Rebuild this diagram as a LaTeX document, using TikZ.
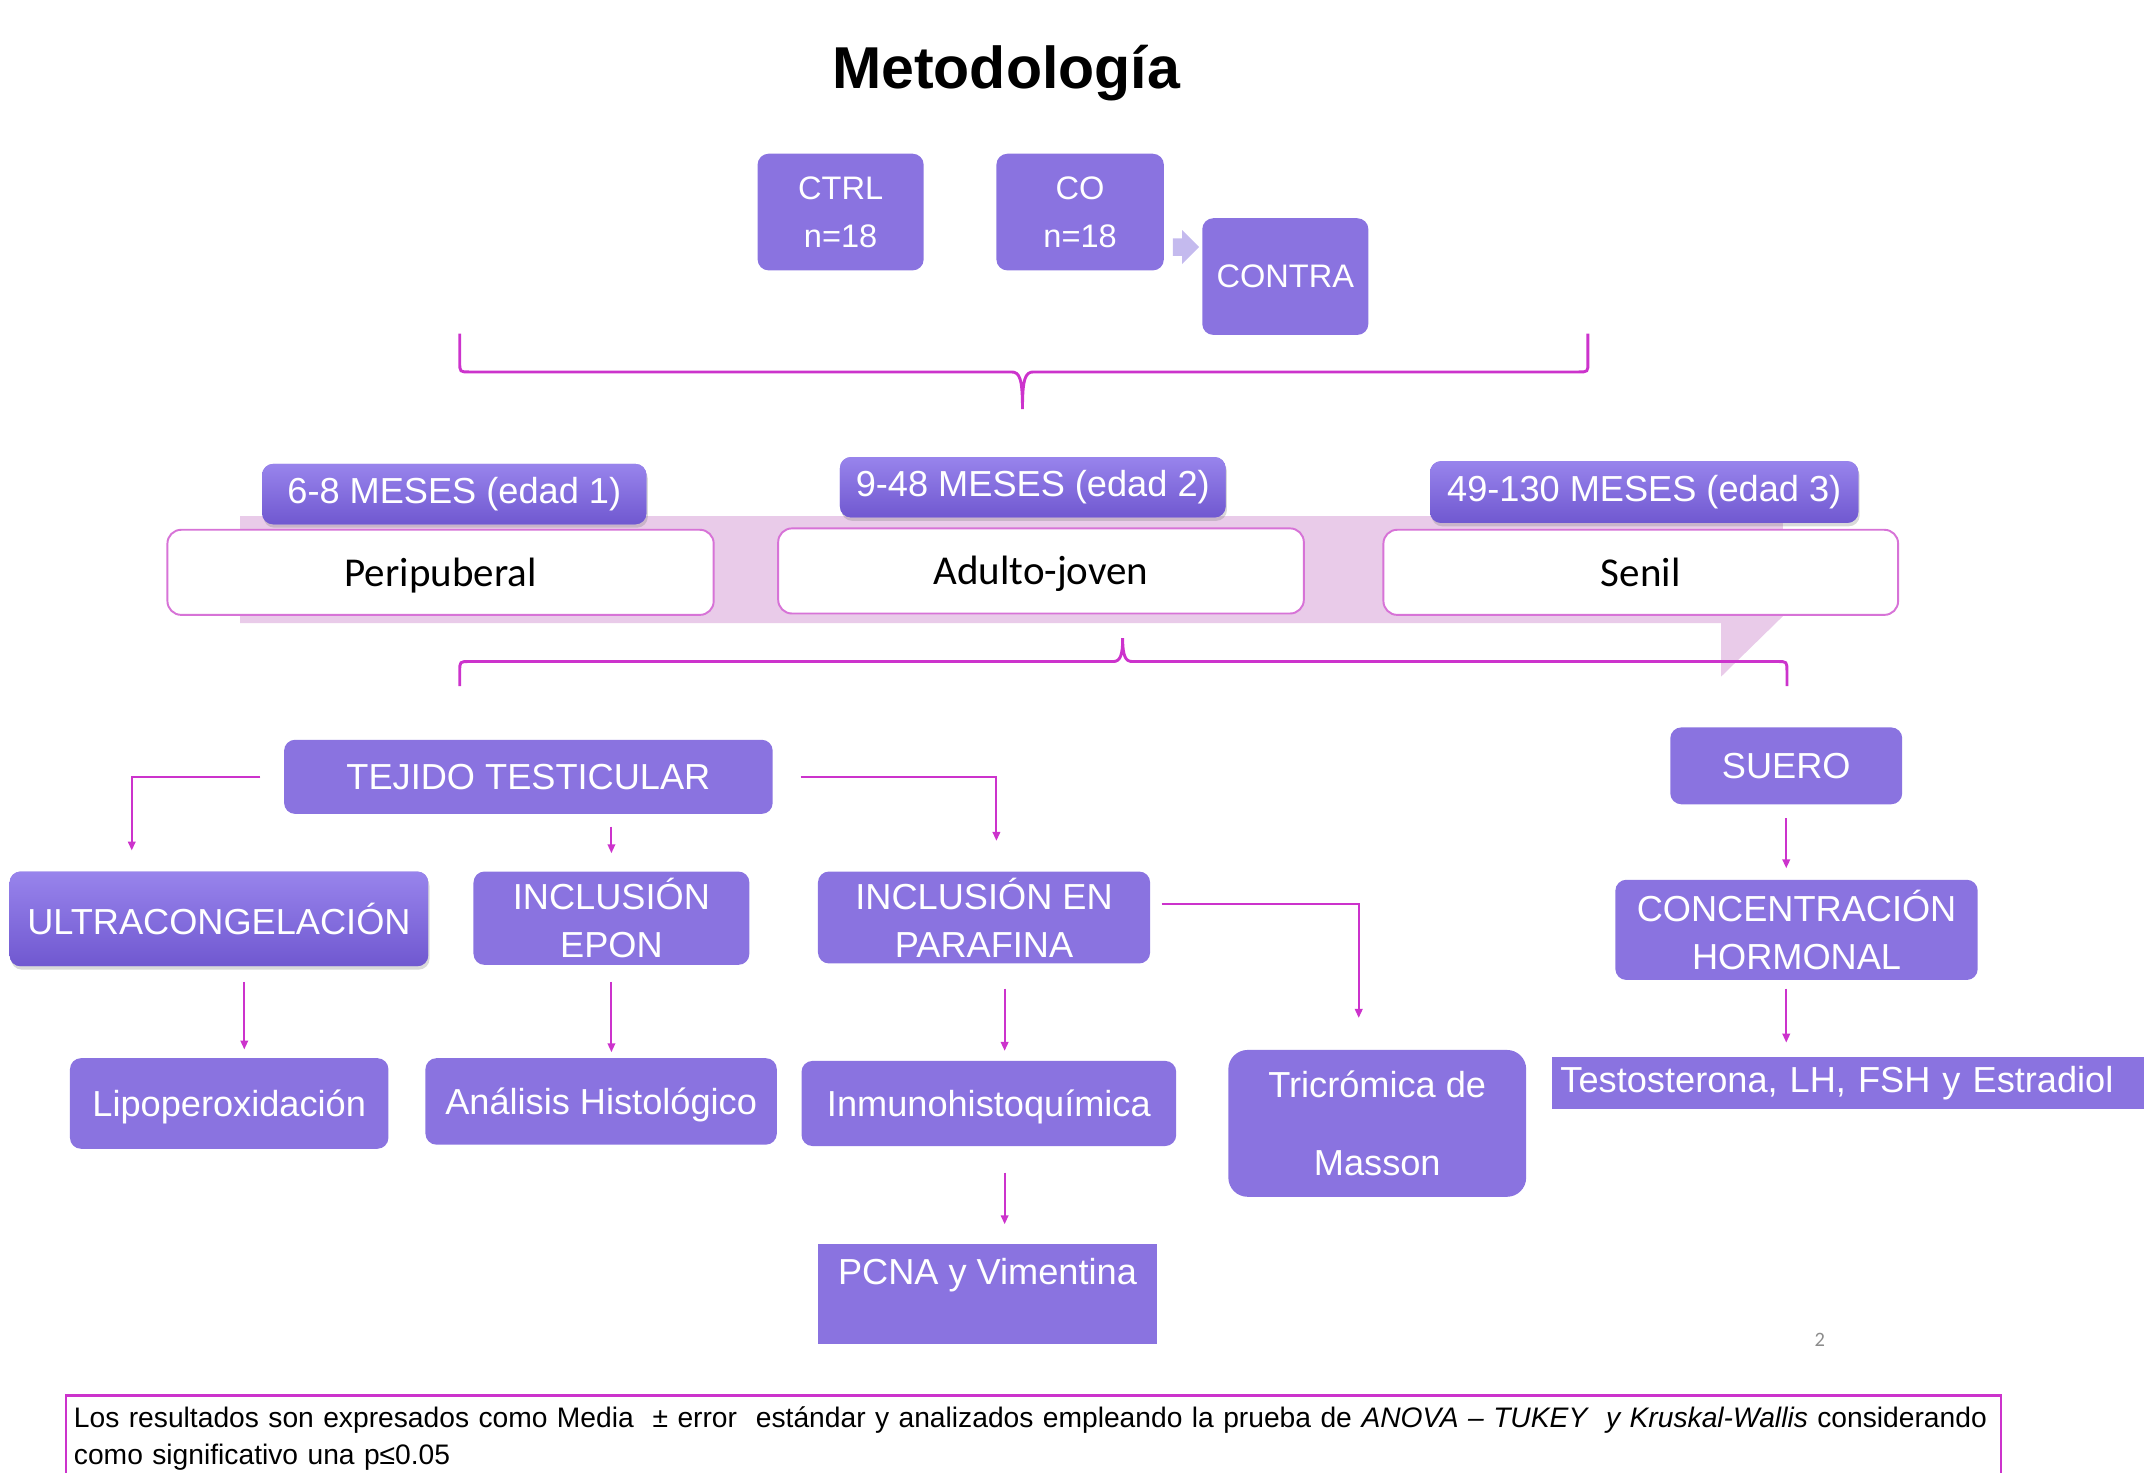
\documentclass[tikz,border=0pt]{standalone}
\usepackage{fontspec}
\setmainfont{Liberation Sans}
\newfontfamily\calibri{Carlito}
\usetikzlibrary{positioning,calc,shadows,shapes.arrows,arrows.meta}

\definecolor{boxpurple}{RGB}{138,115,224}
\definecolor{badgetop}{RGB}{152,132,236}
\definecolor{badgebottom}{RGB}{112,88,208}
\definecolor{linkmagenta}{RGB}{204,51,204}
\definecolor{stageborder}{RGB}{215,115,215}
\definecolor{bandpink}{RGB}{233,203,233}
\definecolor{arrowlilac}{RGB}{196,186,238}

\begin{document}
\begin{tikzpicture}[
    x=0.2mm, y=-0.2mm,
    box/.style={rectangle, fill=boxpurple, rounded corners=1.6mm, text=white, inner sep=0pt, align=center, font=\fontsize{15}{20}\selectfont},
    groupbox/.style={box, font=\fontsize{13.5}{20}\selectfont},
    oneline/.style={text height=13pt, text depth=2.1pt},
    flatbox/.style={box, rounded corners=0pt},
    agebadge/.style={box, top color=badgetop, bottom color=badgebottom, drop shadow={shadow xshift=0.2mm, shadow yshift=-0.5mm, opacity=0.3}},
    stagebox/.style={rectangle, draw=stageborder, line width=0.8pt, fill=white, rounded corners=2mm, inner sep=0pt, text height=14pt, text depth=2.6pt, font=\calibri\fontsize{17}{20}\selectfont},
    flow/.style={draw=linkmagenta, line width=0.8pt, -{Triangle[length=1.3mm, width=1.1mm]}},
    brace/.style={draw=linkmagenta, line width=1.2pt}
]
\useasboundingbox (0,0) rectangle (1568,1073);

% ==================== TITLE & GROUPS ====================
\node[font=\bfseries\fontsize{24.5}{28}\selectfont] (title) at (733,53) {Metodología};

\node[groupbox, minimum width=24.2mm, minimum height=17mm] (ctrl) at (612.5,154.5) {CTRL\\n=18};
\node[groupbox, minimum width=24.4mm, minimum height=17mm] (co) at (787,154.5) {CO\\n=18};
\node[groupbox, minimum width=24.2mm, minimum height=17mm] (contra) at (936.5,201.5) {CONTRA};
\node[single arrow, fill=arrowlilac, inner sep=1.2mm, minimum height=3.2mm, single arrow head extend=1.2mm] (coarrow) at (861,180) {};

% brace groups -> ages
\draw[brace] (335,243) -- (335,264) .. controls (335,271) .. (342,271) -- (737,271)
    .. controls (743,271) and (745,276) .. (745,298)
    .. controls (745,276) and (747,271) .. (753,271) -- (1150,271)
    .. controls (1157,271) .. (1157,264) -- (1157,243);

% ==================== AGE STAGES ====================
\fill[bandpink] (175,376) -- (1299,376) -- (1299,449) -- (1254,493) -- (1254,454) -- (175,454) -- cycle;

\node[stagebox, minimum width=79.6mm, minimum height=12.4mm] (peri) at (321,417) {Peripuberal};
\node[stagebox, minimum width=76.6mm, minimum height=12.4mm] (adulto) at (758.5,416) {Adulto-joven};
\node[stagebox, minimum width=75mm, minimum height=12.4mm] (senil) at (1195.5,417) {Senil};

\node[agebadge, minimum width=56mm, minimum height=8.8mm] (edad1) at (331,360) {6-8 MESES (edad 1)};
\node[agebadge, minimum width=56.2mm, minimum height=8.8mm] (edad2) at (752.5,355) {9-48 MESES (edad 2)};
\node[agebadge, minimum width=62.4mm, minimum height=9mm] (edad3) at (1198,358.5) {49-130 MESES (edad 3)};

% brace ages -> samples
\draw[brace] (335,500) -- (335,489) .. controls (335,482) .. (342,482) -- (811,482)
    .. controls (816,482) and (818,478) .. (818,465)
    .. controls (818,478) and (820,482) .. (825,482) -- (1295,482)
    .. controls (1302,482) .. (1302,489) -- (1302,500);

% ==================== TISSUE BRANCH ====================
\node[box, minimum width=71.2mm, minimum height=10.8mm] (tejido) at (385,566) {TEJIDO TESTICULAR};
\node[agebadge, minimum width=61mm, minimum height=13.8mm] (ultra) at (159.5,669.5) {ULTRACONGELACIÓN};
\node[box, minimum width=40.2mm, minimum height=13.6mm] (epon) at (445.5,669) {INCLUSIÓN\\EPON};
\node[box, minimum width=48.4mm, minimum height=13.4mm] (parafina) at (717,668.5) {INCLUSIÓN EN\\PARAFINA};

\node[box, oneline, minimum width=46.4mm, minimum height=13.2mm] (lipo) at (167,804) {Lipoperoxidación};
\node[box, oneline, minimum width=51.2mm, minimum height=12.6mm] (analisis) at (438,802.5) {Análisis Histológico};
\node[box, oneline, minimum width=54.6mm, minimum height=12.4mm] (inmuno) at (720.5,804) {Inmunohistoquímica};
\node[box, rounded corners=2.8mm, minimum width=43.4mm, minimum height=21.4mm] (tricromica) at (1003.5,818.5) {Tricrómica de\\[12pt]Masson};
\node[flatbox, anchor=north, minimum width=49.4mm, inner ysep=3pt, text height=14pt, text depth=21.5pt] (pcna) at (719.5,906) {PCNA y Vimentina};

% ==================== SERUM BRANCH ====================
\node[box, minimum width=33.8mm, minimum height=11.2mm] (suero) at (1301.5,558) {SUERO};
\node[box, minimum width=52.8mm, minimum height=14.6mm] (conc) at (1309,677.5) {CONCENTRACIÓN\\HORMONAL};
\node[flatbox, minimum height=7.6mm, text width=83.8mm, inner xsep=1.2mm, align=left] (testo) at (1346.5,789) {Testosterona, LH, FSH y Estradiol};

% ==================== CONNECTORS ====================
\coordinate (ultra_in) at ($(ultra.north)+(-63.5,0)$);
\coordinate (para_in) at ($(parafina.north)+(9,0)$);
\coordinate (para_out) at ($(parafina.east)+(0,-10)$);
\coordinate (tric_in) at ($(tricromica.north)+(-13.5,0)$);
\coordinate (ultra_out) at ($(ultra.south)+(18.5,0)$);
\coordinate (para_down) at ($(parafina.south)+(15,0)$);
\coordinate (inmuno_out) at ($(inmuno.south)+(11.5,0)$);

\draw[flow, shorten <=3.4mm, shorten >=3mm] (tejido.west) -| (ultra_in);
\draw[flow, shorten <=1.8mm, shorten >=2.6mm] (tejido.south -| epon.north) -- (epon.north);
\draw[flow, shorten <=4mm, shorten >=4.4mm] (tejido.east) -| (para_in);
\draw[flow, shorten <=1.6mm, shorten >=4.6mm] (para_out) -| (tric_in);

\draw[flow, shorten <=2.2mm, shorten >=1.2mm] (ultra_out) -- (ultra_out |- lipo.north);
\draw[flow, shorten <=2.4mm, shorten >=0.8mm] (epon.south) -- (epon.south |- analisis.north);
\draw[flow, shorten <=3.6mm, shorten >=1.4mm] (para_down) -- (para_down |- inmuno.north);
\draw[flow, shorten <=3.8mm, shorten >=2.8mm] (inmuno_out) -- (inmuno_out |- pcna.north);

\draw[flow, shorten <=2mm, shorten >=1.6mm] (suero.south) -- (suero.south |- conc.north);
\draw[flow, shorten <=1.2mm, shorten >=2mm] (conc.south -| suero.south) -- (suero.south |- testo.north);

% ==================== FOOTER ====================
\node[text=black!45, font=\calibri\fontsize{8.5}{10}\selectfont] (pagenum) at (1326,976) {2};
\node[draw=linkmagenta, line width=1pt, anchor=north west, text width=279.6mm, inner xsep=1.2mm, inner ysep=1.6mm, align=left, font=\fontsize{11.7}{15.4}\selectfont, text depth=30pt] (note) at (47,1016)
    {Los resultados son expresados como Media~ ± error~ estándar y analizados empleando la prueba de \textit{ANOVA – TUKEY~ y Kruskal-Wallis} considerando como significativo una p≤0.05};

\end{tikzpicture}
\end{document}
